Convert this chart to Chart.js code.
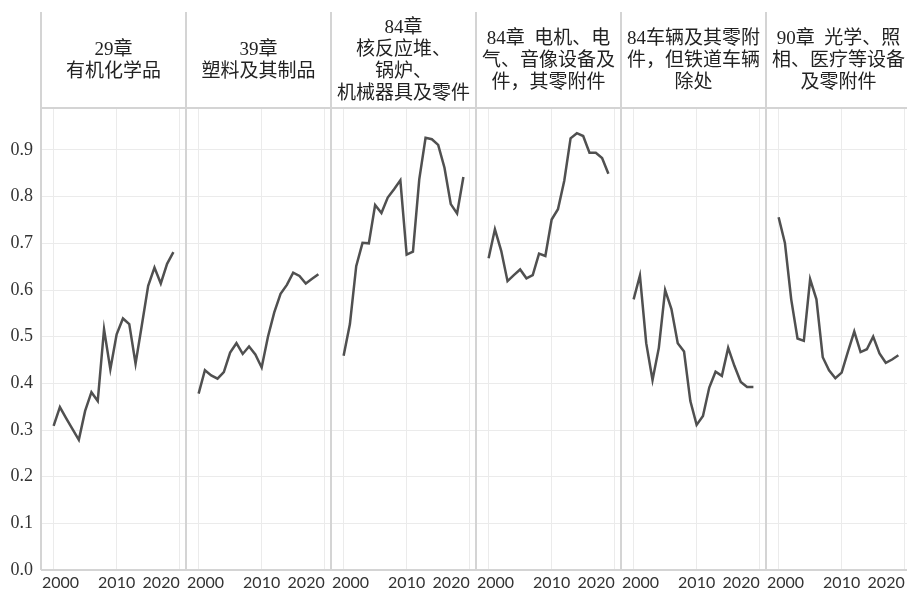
<!DOCTYPE html>
<html>
<head>
<meta charset="utf-8">
<script src="https://cdn.jsdelivr.net/npm/chart.js@4.4.1/dist/chart.umd.min.js"></script>
<style>
body { margin:0; width:907px; height:590px; overflow:hidden; background:#fff; position:relative;
       font-family:"Liberation Serif","Noto Sans CJK SC",serif; }
.panel { position:absolute; top:100px; height:490px; }
.head { position:absolute; top:12px; height:96px; width:145px; display:flex; align-items:center;
        justify-content:center; text-align:center; font-size:19px; line-height:22px; color:#222;
        white-space:pre; }
.vline { position:absolute; top:12px; height:558px; width:2px; background:#d4d4d4; }
.hline { position:absolute; left:41px; height:2px; width:870px; background:#d4d4d4; }
</style>
</head>
<body>
<script>
const years = [2000,2001,2002,2003,2004,2005,2006,2007,2008,2009,2010,2011,2012,2013,2014,2015,2016,2017,2018,2019];

const titles = [
    ["29章", "有机化学品"],
    ["39章", "塑料及其制品"],
    ["84章", "核反应堆、", "锅炉、", "机械器具及零件"],
    ["84章  电机、电", "气、音像设备及", "件，其零附件"],
    ["84车辆及其零附", "件，但铁道车辆", "除处"],
    ["90章  光学、照", "相、医疗等设备", "及零附件"]
];

const organicChem = [0.309,0.349,0.325,0.302,0.279,0.341,0.381,0.362,0.516,0.430,0.505,0.539,0.527,0.442,0.525,0.609,0.648,0.614,0.656,0.681];
const plastics    = [0.378,0.428,0.417,0.410,0.424,0.466,0.486,0.463,0.479,0.462,0.434,0.500,0.552,0.592,0.611,0.637,0.630,0.614,0.624,0.634];
const machinery   = [0.459,0.527,0.651,0.701,0.700,0.782,0.765,0.798,0.816,0.835,0.676,0.682,0.837,0.926,0.923,0.911,0.862,0.784,0.764,0.842];
const electrical  = [0.668,0.730,0.684,0.619,0.632,0.644,0.625,0.632,0.678,0.673,0.751,0.773,0.834,0.925,0.936,0.930,0.894,0.894,0.883,0.849];
const vehicles    = [0.580,0.631,0.486,0.407,0.476,0.600,0.559,0.486,0.468,0.362,0.311,0.330,0.391,0.425,0.416,0.476,0.437,0.403,0.392,0.392];
const optical     = [0.756,0.701,0.580,0.496,0.491,0.623,0.580,0.456,0.428,0.411,0.423,0.468,0.511,0.467,0.473,0.500,0.464,0.444,0.451,0.460];

const series = [organicChem, plastics, machinery, electrical, vehicles, optical];

const PANEL_W = 145;
const AXIS_W = 41;

// year labels: first one kept inside the panel, last one right-aligned on its tick
const xLabels = {
    id: 'xLabels',
    afterDraw(chart) {
        const { ctx, chartArea, scales: { x } } = chart;
        ctx.save();
        ctx.font = '16px Lato';
        ctx.fillStyle = '#333';
        ctx.textBaseline = 'top';
        ctx.textAlign = 'left';
        x.ticks.forEach((t, k) => {
            const px = x.getPixelForValue(t.value);
            const txt = String(t.value);
            const w = ctx.measureText(txt).width;
            let lx = k === x.ticks.length - 1 ? px - w : Math.max(px - w / 2, chartArea.left + 1);
            ctx.fillText(txt, lx, chartArea.bottom + 5);
        });
        ctx.restore();
    }
};

function createPanel(i) {
    const first = i === 0;
    const div = document.createElement('div');
    div.className = 'panel';
    div.style.left = (first ? 0 : AXIS_W + PANEL_W * i) + 'px';
    div.style.width = (first ? AXIS_W + PANEL_W : PANEL_W) + 'px';
    const cv = document.createElement('canvas');
    div.appendChild(cv);
    document.body.appendChild(div);

    return new Chart(cv, {
        type: 'line',
        data: {
            datasets: [{
                data: years.map((y, k) => ({ x: y, y: series[i][k] })),
                borderColor: '#505050',
                borderWidth: 2.5,
                pointRadius: 0,
                tension: 0,
                fill: false
            }]
        },
        options: {
            responsive: true,
            maintainAspectRatio: false,
            animation: false,
            layout: { padding: { top: 8, left: 0, right: 0, bottom: 0 } },
            plugins: { legend: { display: false }, tooltip: { enabled: false } },
            scales: {
                x: {
                    type: 'linear', min: 1998, max: 2021,
                    afterFit: s => { s.height = 20; s.paddingLeft = 0; s.paddingRight = 0; },
                    ticks: { display: false, stepSize: 10, includeBounds: false },
                    grid: { color: '#ebebeb', drawTicks: false },
                    border: { display: false }
                },
                y: {
                    min: 0, max: 0.99,
                    afterFit: s => { s.width = first ? AXIS_W : 0; s.paddingTop = 0; s.paddingBottom = 0; },
                    ticks: {
                        display: first, stepSize: 0.1, includeBounds: false, padding: 8,
                        color: '#333', font: { family: 'Liberation Serif', size: 18 },
                        callback: v => v.toFixed(1)
                    },
                    grid: { color: '#ebebeb', drawTicks: false },
                    border: { display: false }
                }
            }
        },
        plugins: [xLabels]
    });
}

titles.forEach((lines, i) => {
    createPanel(i);
    const h = document.createElement('div');
    h.className = 'head';
    h.style.left = (AXIS_W + PANEL_W * i) + 'px';
    h.textContent = lines.join('\n');
    document.body.appendChild(h);
});

for (let i = 0; i <= titles.length; i++) {
    const v = document.createElement('div');
    v.className = 'vline';
    v.style.left = (AXIS_W + PANEL_W * i - 1) + 'px';
    document.body.appendChild(v);
}
[107, 569].forEach(top => {
    const l = document.createElement('div');
    l.className = 'hline';
    l.style.top = top + 'px';
    document.body.appendChild(l);
});
</script>
</body>
</html>
